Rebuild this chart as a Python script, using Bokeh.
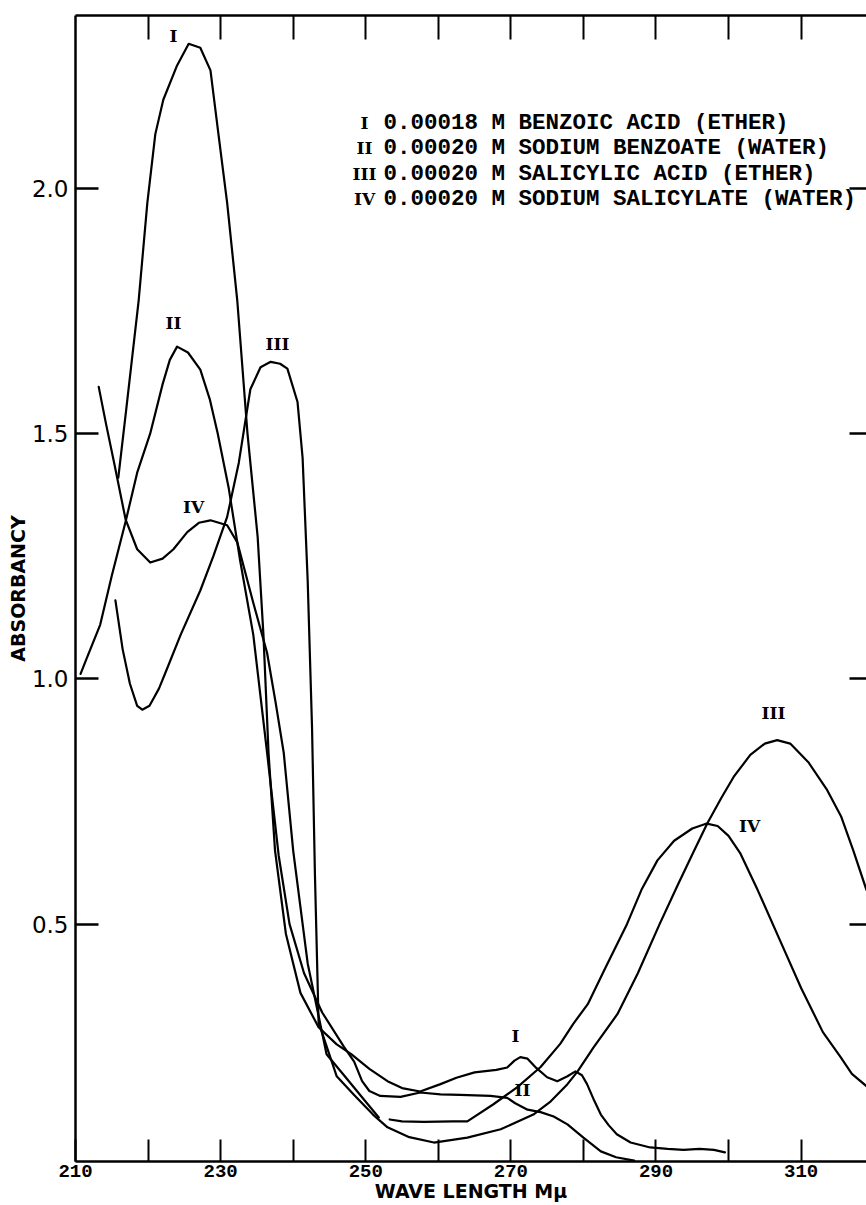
from bokeh.plotting import figure
from bokeh.models import Range1d, LinearAxis, FixedTicker, NumeralTickFormatter
from bokeh.embed import file_html
from bokeh.resources import INLINE
from bokeh.core.properties import value

# ---------------- data ----------------
x_major = [210, 230, 250, 270, 290, 310]
x_minor = [220, 240, 260, 280, 300]
y_ticks = [0.5, 1.0, 1.5, 2.0]

# I  0.00018 M benzoic acid (ether)
I_x = [215.9, 217.0, 218.7, 219.9, 221.0, 222.1, 224.0, 225.6, 227.2, 228.6, 229.7, 230.9,
       232.3, 233.7, 235.1, 235.9, 236.6, 237.5, 239.0, 241.0, 243.5, 246.0, 248.0, 250.5,
       253.0, 255.0, 257.5, 260.3, 262.5, 265.0, 268.0, 269.5, 270.5, 271.3, 272.3, 273.5,
       275.0, 276.4, 277.8, 278.9, 279.8, 280.5, 281.5, 282.4, 283.5, 284.6, 286.5, 289.2,
       291.6, 293.8, 296.0, 298.0, 299.5]
I_y = [1.41, 1.55, 1.77, 1.97, 2.11, 2.18, 2.25, 2.294, 2.286, 2.24, 2.11, 1.97,
       1.77, 1.50, 1.29, 1.09, 0.85, 0.65, 0.48, 0.36, 0.29, 0.255, 0.235, 0.205,
       0.180, 0.166, 0.159, 0.174, 0.187, 0.198, 0.203, 0.208, 0.222, 0.229, 0.226, 0.207,
       0.188, 0.180, 0.190, 0.200, 0.192, 0.174, 0.140, 0.112, 0.090, 0.072, 0.055, 0.045,
       0.042, 0.040, 0.042, 0.040, 0.035]

# II  0.00020 M sodium benzoate (water)
II_x = [210.7, 211.5, 213.4, 215.0, 216.9, 218.5, 220.3, 222.0, 223.0, 224.0, 225.5, 227.2,
        228.5, 229.6, 231.1, 232.7, 234.5, 236.4, 238.0, 239.5, 241.5, 244.0, 247.0, 248.4,
        249.5, 250.5, 252.0, 254.8, 257.5, 260.3, 263.0, 267.2, 269.5, 270.6, 272.3, 274.1,
        275.9, 277.8, 280.0, 282.4, 284.5, 287.0]
II_y = [1.01, 1.04, 1.11, 1.21, 1.32, 1.42, 1.50, 1.60, 1.65, 1.677, 1.665, 1.63,
        1.57, 1.50, 1.39, 1.24, 1.09, 0.85, 0.64, 0.50, 0.40, 0.32, 0.25, 0.22,
        0.18, 0.16, 0.150, 0.148, 0.157, 0.153, 0.152, 0.150, 0.146, 0.135, 0.122, 0.117,
        0.108, 0.092, 0.065, 0.037, 0.025, 0.018]

# III  0.00020 M salicylic acid (ether)
III_x = [215.5, 216.5, 217.5, 218.5, 219.2, 220.2, 221.5, 222.6, 224.5, 227.2, 229.0, 230.9,
         232.5, 234.1, 235.5, 236.9, 238.2, 239.2, 240.6, 241.3, 242.0, 242.6, 243.0, 243.5,
         246.0, 248.4, 251.0, 253.0, 256.0, 259.4, 264.0, 268.6, 273.1, 275.5, 277.8,
         279.2, 281.4, 284.7, 287.5, 290.5, 293.0, 295.2, 297.1, 299.0, 300.7, 303.0, 305.0,
         306.7, 308.5, 311.0, 313.6, 315.5, 317.2, 319.0]
III_y = [1.16, 1.06, 0.99, 0.945, 0.937, 0.945, 0.98, 1.02, 1.09, 1.18, 1.25, 1.33,
         1.44, 1.59, 1.635, 1.646, 1.642, 1.632, 1.564, 1.45, 1.20, 0.90, 0.60, 0.30,
         0.19, 0.152, 0.112, 0.086, 0.066, 0.055, 0.065, 0.082, 0.112, 0.139, 0.174,
         0.200, 0.249, 0.317, 0.40, 0.50, 0.58, 0.648, 0.706, 0.757, 0.80, 0.845, 0.868,
         0.875, 0.868, 0.83, 0.773, 0.72, 0.65, 0.57]

# IV  0.00020 M sodium salicylate (water)  (two recorded segments)
IV_x = [213.2, 214.2, 215.3, 216.9, 218.5, 220.3, 222.0, 223.5, 225.4, 227.0, 228.6, 230.9,
        232.3, 234.5, 236.4, 237.6, 238.7, 240.0, 242.0, 244.6, 247.0, 250.0, 251.8,
        float("nan"),
        253.3, 255.0, 258.0, 262.0, 264.0, 267.6, 270.9, 274.1, 276.8, 278.6, 280.6, 283.0,
        286.0, 288.0, 290.2, 292.5, 295.0, 297.0, 298.5, 300.0, 301.6, 304.0, 307.0, 310.0,
        313.0, 315.4, 317.0, 319.0]
IV_y = [1.595, 1.52, 1.442, 1.325, 1.264, 1.237, 1.245, 1.264, 1.299, 1.318, 1.323, 1.313,
        1.278, 1.155, 1.053, 0.95, 0.849, 0.65, 0.42, 0.235, 0.192, 0.138, 0.106,
        float("nan"),
        0.102, 0.098, 0.097, 0.098, 0.098, 0.133, 0.168, 0.209, 0.256, 0.297, 0.337, 0.41,
        0.50, 0.57, 0.63, 0.67, 0.695, 0.705, 0.70, 0.68, 0.645, 0.57, 0.47, 0.37,
        0.28, 0.23, 0.195, 0.17]

legend_numerals = ["I", "II", "III", "IV"]
legend_texts = ["0.00018 M  BENZOIC  ACID (ETHER)",
                "0.00020 M  SODIUM BENZOATE (WATER)",
                "0.00020 M  SALICYLIC  ACID (ETHER)",
                "0.00020 M  SODIUM SALICYLATE (WATER)"]

curve_labels = ["I", "II", "III", "IV", "III", "IV", "I", "II"]

x_title = "WAVE LENGTH Mμ"
y_title = "ABSORBANCY"

# ---------------- layout helpers (pixel -> data) ----------------
X0, PXX = 75.0, 7.256      # px of x=210, px per nm
Y0, PXY = 1165.0, 489.0    # px of y=0, px per unit absorbance
def dx(px): return 210 + (px - X0) / PXX
def dy(py): return (Y0 - py) / PXY

p = figure(width=866, height=1204,
           x_range=Range1d(210, dx(866)), y_range=Range1d(dy(1157), dy(15)),
           output_backend="svg", toolbar_location=None,
           x_axis_location=None, y_axis_location=None,
           min_border_left=75, min_border_right=0, min_border_top=15, min_border_bottom=40)
p.grid.visible = False
p.outline_line_color = None
p.background_fill_color = "white"
p.border_fill_color = "white"

MONO = "Liberation Mono"

# bottom axis
xb = LinearAxis(ticker=FixedTicker(ticks=x_major, minor_ticks=x_minor))
xb.major_tick_in = 22; xb.major_tick_out = 0
xb.minor_tick_in = 22; xb.minor_tick_out = 0
xb.axis_line_width = 2.5; xb.major_tick_line_width = 2; xb.minor_tick_line_width = 2
xb.major_label_text_font = MONO
xb.major_label_text_font_size = "19px"
xb.major_label_text_font_style = "bold"
xb.major_label_text_color = "black"
xb.major_label_standoff = 3
xb.axis_label = x_title
xb.axis_label_text_font = "DejaVu Sans"
xb.axis_label_text_font_size = "19px"
xb.axis_label_text_font_style = "bold"
xb.axis_label_text_color = "black"
xb.axis_label_standoff = 0
p.add_layout(xb, "below")

# top axis (ticks only)
xt = LinearAxis(ticker=FixedTicker(ticks=sorted(x_major[1:] + x_minor)))
xt.major_tick_in = 24; xt.major_tick_out = 0; xt.minor_tick_in = 0; xt.minor_tick_out = 0
xt.axis_line_width = 2.5; xt.major_tick_line_width = 2
xt.major_label_text_color = None; xt.major_label_text_font_size = "1px"; xt.major_label_standoff = 0
p.add_layout(xt, "above")

# left axis
yl = LinearAxis(ticker=FixedTicker(ticks=y_ticks), formatter=NumeralTickFormatter(format="0.0"))
yl.major_tick_in = 23; yl.major_tick_out = 0; yl.minor_tick_in = 0; yl.minor_tick_out = 0
yl.axis_line_width = 2.5; yl.major_tick_line_width = 2.5
yl.major_label_text_font = "DejaVu Sans"
yl.major_label_text_font_size = "23px"
yl.major_label_text_color = "black"
yl.major_label_standoff = 7
yl.axis_label = y_title
yl.axis_label_text_font = "DejaVu Sans"
yl.axis_label_text_font_size = "19px"
yl.axis_label_text_font_style = "bold"
yl.axis_label_text_color = "black"
yl.axis_label_standoff = 0
p.add_layout(yl, "left")

# right axis (ticks only; the frame edge lies beyond the page)
yr = LinearAxis(ticker=FixedTicker(ticks=y_ticks))
yr.axis_line_color = None
yr.major_tick_in = 17; yr.major_tick_out = 0; yr.minor_tick_in = 0; yr.minor_tick_out = 0
yr.major_tick_line_width = 2.5
yr.major_label_text_color = None; yr.major_label_text_font_size = "1px"; yr.major_label_standoff = 0
p.add_layout(yr, "right")

# curves
for xs, ys in [(I_x, I_y), (II_x, II_y), (III_x, III_y), (IV_x, IV_y)]:
    p.line(xs, ys, line_color="black", line_width=2.2, line_join="round", line_cap="round")

# curve labels
lab_px = [(173, 35), (173, 321), (277, 342), (193, 505), (773, 710), (749, 823), (515, 1032), (522, 1086)]
p.text(x=[dx(a) for a, b in lab_px], y=[dy(b) for a, b in lab_px], text=curve_labels,
       text_font=value("DejaVu Serif"), text_font_style="bold", text_font_size="17px",
       text_align="center", text_baseline="middle", text_color="black")

# legend
leg_py = [122, 147, 173, 198]
p.text(x=[dx(364)] * 4, y=[dy(v) for v in leg_py], text=legend_numerals,
       text_font=value("DejaVu Serif"), text_font_style="bold", text_font_size="17px",
       text_align="center", text_baseline="middle", text_color="black")
p.text(x=[dx(383)] * 4, y=[dy(v) for v in leg_py], text=legend_texts,
       text_font=value(MONO), text_font_style="bold", text_font_size="22.5px",
       text_align="left", text_baseline="middle", text_color="black")

open("out.html", "w").write(file_html(p, INLINE))
